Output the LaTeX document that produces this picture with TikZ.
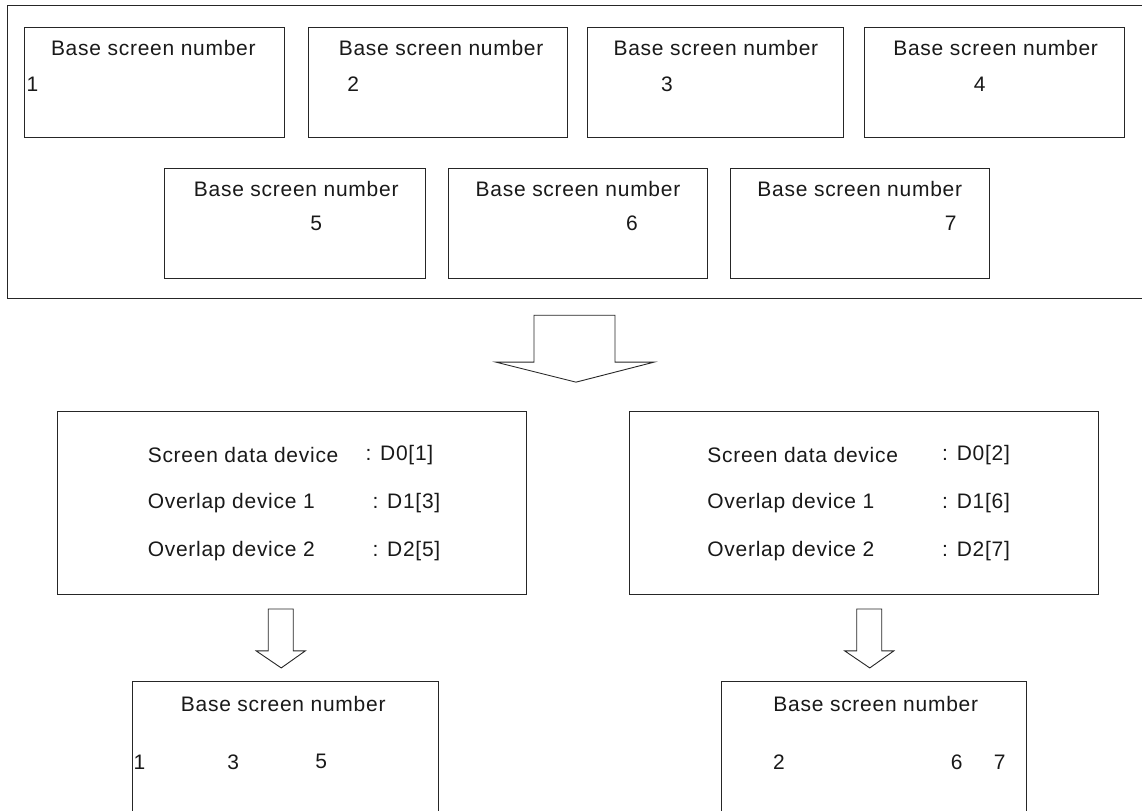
\documentclass[tikz,border=0pt]{standalone}
\usepackage{fontspec}
\setmainfont{Liberation Sans}[LetterSpace=3.5]
\begin{document}
\begin{tikzpicture}[x=1pt,y=-1pt,
  line width=0.9pt,
  every path/.style={draw=black!85},
  box/.style={draw=black!85, fill=none, inner sep=0pt, minimum width=#1},
  lbl/.style={inner sep=0pt, font=\fontsize{21}{25}\selectfont, text=black!90},
  blockarrow/.style={draw=black!85, fill=white, line join=miter}
]
\useasboundingbox (0,0) rectangle (1142,810);
\fill[white] (0,0) rectangle (1142,810);
% outer frame (open on the right)
\coordinate (ftr) at (1143,5);
\coordinate (fbr) at (1143,298);
\draw (ftr) -- (7,5) -- (7,298) -- (fbr);

% top row boxes
\node[box=260pt, minimum height=110pt] (b1) at (154,82) {};
\node[box=259pt, minimum height=110pt] (b2) at (437.5,82) {};
\node[box=257pt, minimum height=110pt] (b3) at (715.5,82) {};
\node[box=260pt, minimum height=110pt] (b4) at (995,82) {};
% second row boxes
\node[box=261pt, minimum height=110pt] (b5) at (294.5,223) {};
\node[box=260pt, minimum height=110pt] (b6) at (578,223) {};
\node[box=259pt, minimum height=110pt] (b7) at (860.5,223) {};

\node[lbl] (t1) at (153,48) {Base screen number};
\node[lbl] (t2) at (441,48) {Base screen number};
\node[lbl] (t3) at (716,48) {Base screen number};
\node[lbl] (t4) at (996,48) {Base screen number};
\node[lbl] (t5) at (296,189) {Base screen number};
\node[lbl] (t6) at (578,189) {Base screen number};
\node[lbl] (t7) at (860,189) {Base screen number};

\node[lbl] (n1) at (32,84) {1};
\node[lbl] (n2) at (353,84) {2};
\node[lbl] (n3) at (667,84) {3};
\node[lbl] (n4) at (980,84) {4};
\node[lbl] (n5) at (316,223) {5};
\node[lbl] (n6) at (632,223) {6};
\node[lbl] (n7) at (951,223) {7};

% big arrow
\draw[blockarrow] (534,315) -- (615,315) -- (615,362) -- (654,362) -- (576,382)
  -- (496,362) -- (534,362) -- cycle;

% middle boxes
\node[box=469pt, minimum height=183pt] (m1) at (291.5,502.5) {};
\node[box=470pt, minimum height=183pt] (m2) at (864,502.5) {};

\node[lbl, anchor=west] (l11) at (147,455) {Screen data device};
\node[lbl, anchor=west] (l12) at (147,503) {Overlap device 1};
\node[lbl, anchor=west] (l13) at (147,551) {Overlap device 2};
\node[lbl, anchor=west] (v11) at (365,455) {: D0[1]};
\node[lbl, anchor=west] (v12) at (372,503) {: D1[3]};
\node[lbl, anchor=west] (v13) at (372,551) {: D2[5]};

\node[lbl, anchor=west] (l21) at (707,455) {Screen data device};
\node[lbl, anchor=west] (l22) at (707,503) {Overlap device 1};
\node[lbl, anchor=west] (l23) at (707,551) {Overlap device 2};
\node[lbl, anchor=west] (v21) at (942,455) {: D0[2]};
\node[lbl, anchor=west] (v22) at (942,503) {: D1[6]};
\node[lbl, anchor=west] (v23) at (942,551) {: D2[7]};

% small arrows
\draw[blockarrow] (268,609) -- (293,609) -- (293,651) -- (305,651) -- (281,668)
  -- (256,651) -- (268,651) -- cycle;
\draw[blockarrow] (857,609) -- (882,609) -- (882,651) -- (894,651) -- (870,668)
  -- (845,651) -- (857,651) -- cycle;

% bottom boxes (cut off at the lower edge)
\coordinate (p1a) at (132,815);
\coordinate (p1b) at (438,815);
\coordinate (p2a) at (722,815);
\coordinate (p2b) at (1027,815);
\draw (p1a) -- (132,682) -- (438,682) -- (p1b);
\draw (p2a) -- (722,682) -- (1027,682) -- (p2b);

\node[lbl] (r1) at (283,704) {Base screen number};
\node[lbl] (r2) at (876,704) {Base screen number};
\node[lbl] (r11) at (139,762) {1};
\node[lbl] (r13) at (233,762) {3};
\node[lbl] (r15) at (321,762) {5};
\node[lbl] (r22) at (779,762) {2};
\node[lbl] (r26) at (957,762) {6};
\node[lbl] (r27) at (1000,762) {7};
\end{tikzpicture}
\end{document}
